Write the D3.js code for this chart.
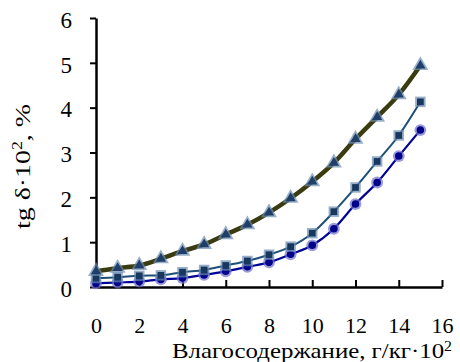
<!DOCTYPE html>
<meta charset="utf-8">
<script src="https://d3js.org/d3.v7.min.js"></script>
<style>
  body { margin: 0; background: #fff; }
  text { fill: #000; }
</style>
<div id="chart"></div>
<script>

// moisture content, g/kg·10^2
var xs = [0, 1, 2, 3, 4, 5, 6, 7, 8, 9, 10, 11, 12, 13, 14, 15];
// tg delta ·10^2, %
var topSeries = [0.35, 0.42, 0.48, 0.63, 0.8, 0.95, 1.17, 1.39, 1.66, 1.98, 2.35, 2.77, 3.3, 3.79, 4.29, 4.94];
var midSeries = [0.2, 0.22, 0.25, 0.26, 0.33, 0.38, 0.48, 0.58, 0.72, 0.9, 1.2, 1.68, 2.22, 2.8, 3.38, 4.13];
var lowSeries = [0.08, 0.1, 0.12, 0.17, 0.2, 0.27, 0.35, 0.45, 0.55, 0.73, 0.93, 1.3, 1.85, 2.33, 2.92, 3.5];
var xTicks = [0, 2, 4, 6, 8, 10, 12, 14, 16];
var yTicks = [0, 1, 2, 3, 4, 5, 6];

var FONT = "'Liberation Serif', 'Times New Roman', serif";

var margin = {top: 18, right: 18, bottom: 75, left: 96},
  width = 460 - margin.left - margin.right,
  height = 362 - margin.top - margin.bottom;

var svg = d3.select("#chart")
  .append("svg")
    .attr("width", 460)
    .attr("height", 362)
  .append("g")
    .attr("transform", "translate(" + margin.left + "," + margin.top + ")");

var x = d3.scaleLinear().domain([0, 16]).range([0, width]);
var y = d3.scaleLinear().domain([0, 6]).range([height, 0]);

// X axis, ticks point up into the plot
var gx = svg.append("g")
  .attr("transform", "translate(0," + height + ")")
  .call(d3.axisBottom(x).tickValues(xTicks).tickFormat(d3.format("d"))
    .tickSizeInner(-7).tickSizeOuter(0).tickPadding(30))
  .attr("font-family", FONT)
  .attr("font-size", 22);
gx.select(".domain").attr("stroke-width", 2.5);
gx.selectAll(".tick line").attr("stroke-width", 2);

// Y axis
var gy = svg.append("g")
  .call(d3.axisLeft(y).tickValues(yTicks).tickFormat(d3.format("d"))
    .tickSizeInner(6).tickSizeOuter(0).tickPadding(18))
  .attr("font-family", FONT)
  .attr("font-size", 23);
gy.select(".domain").attr("stroke-width", 2.5);
gy.selectAll(".tick line").attr("stroke-width", 2);
gy.selectAll("text").attr("dy", "0.4em");

// axis titles
var xl = svg.append("text")
  .attr("x", width + 10)
  .attr("y", height + 71)
  .attr("text-anchor", "end")
  .attr("font-family", FONT)
  .attr("font-size", 22)
  .attr("textLength", 280)
  .attr("lengthAdjust", "spacingAndGlyphs");
xl.append("tspan").text("Влагосодержание, г/кг·10");
xl.append("tspan").attr("dy", -7).attr("font-size", 14).text("2");

var yl = svg.append("text")
  .attr("transform", "translate(" + (-66) + "," + (height / 2 + 14) + ") rotate(-90)")
  .attr("text-anchor", "middle")
  .attr("font-family", FONT)
  .attr("font-size", 22)
  .attr("textLength", 125)
  .attr("lengthAdjust", "spacingAndGlyphs");
yl.append("tspan").text("tg δ·10");
yl.append("tspan").attr("dy", -8).attr("font-size", 14).text("2");
yl.append("tspan").attr("dy", 8).text(", %");

var line = d3.line()
  .curve(d3.curveMonotoneX)
  .x(function(d, i) { return x(xs[i]); })
  .y(function(d) { return y(d); });

// series definitions built from the arrays above
var series = [
  {vals: lowSeries, line: "#000099", lw: 2.2, shape: d3.symbolCircle, fill: "#00008b", halo: "#7070c8"},
  {vals: midSeries, line: "#1f4e79", lw: 2, shape: d3.symbolSquare, fill: "#17375e", halo: "#6a8cb0"},
  {vals: topSeries, line: "#3b3b12", lw: 4.5, shape: d3.symbolTriangle, fill: "#1f3f6a", halo: "#6d8db0"}
];

series.forEach(function(s) {
  svg.append("path")
    .datum(s.vals)
    .attr("d", line)
    .attr("fill", "none")
    .attr("stroke", s.line)
    .attr("stroke-width", s.lw);

  var pts = svg.append("g").selectAll("g")
    .data(s.vals)
    .enter()
    .append("g")
      .attr("transform", function(d, i) { return "translate(" + x(xs[i]) + "," + y(d) + ")"; });

  pts.append("path")
    .attr("d", d3.symbol().type(s.shape).size(110))
    .attr("fill", s.halo)
    .attr("opacity", 0.7);
  pts.append("path")
    .attr("d", d3.symbol().type(s.shape).size(45))
    .attr("fill", s.fill);
});

</script>
